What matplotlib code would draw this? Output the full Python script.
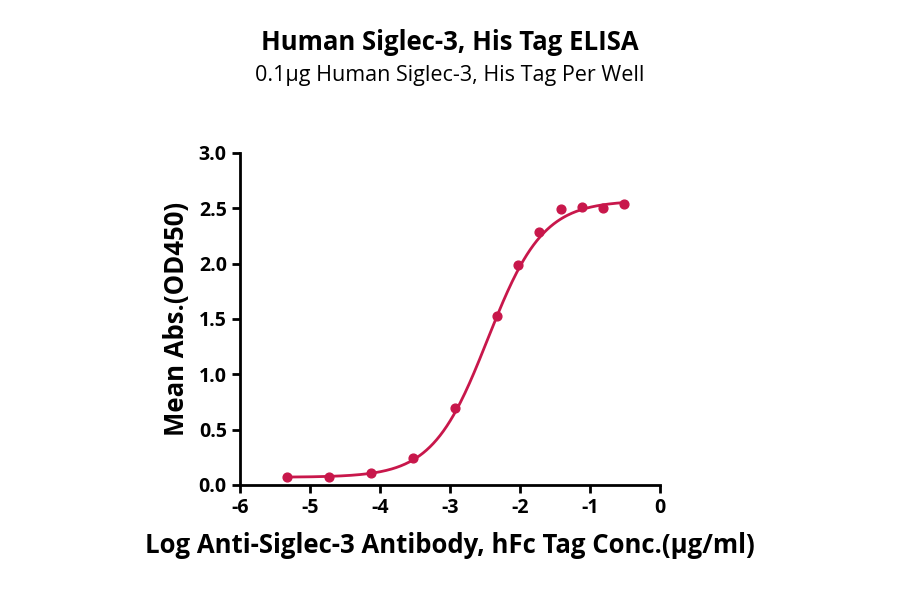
import numpy as np
import matplotlib
matplotlib.use("Agg")
import matplotlib.pyplot as plt

plt.rcParams['font.family'] = ['Open Sans', 'DejaVu Sans']
plt.rcParams['axes.unicode_minus'] = False

log_conc = [-5.33, -4.73, -4.13, -3.53, -2.93, -2.33, -2.03, -1.73, -1.42, -1.12, -0.82, -0.52]
od450 = [0.07, 0.07, 0.11, 0.24, 0.70, 1.53, 1.99, 2.29, 2.49, 2.51, 2.50, 2.54]
# 4PL fit parameters (estimated)
bottom, top, log_ec50, hill = 0.07, 2.57, -2.46, 1.1

color = '#C8174B'
fig = plt.figure(figsize=(9, 5.94), dpi=100)
ax = fig.add_axes([240/900, 1-485/594, 420/900, 332/594])
xs = np.linspace(min(log_conc), max(log_conc), 300)
ys = bottom + (top - bottom) / (1 + 10 ** ((log_ec50 - xs) * hill))
ax.plot(xs, ys, color=color, lw=2)
ax.scatter(log_conc, od450, color=color, s=40, zorder=3)
ax.set_xlim(-6, 0)
ax.set_ylim(0, 3.0)
ax.set_xticks(range(-6, 1))
ax.set_yticks(np.arange(0, 3.01, 0.5))
ax.set_yticklabels([f"{v:.1f}" for v in np.arange(0, 3.01, 0.5)])
for s in ['top', 'right']:
    ax.spines[s].set_visible(False)
for s in ['left', 'bottom']:
    ax.spines[s].set_linewidth(2)
ax.tick_params(width=2, length=6, labelsize=14)
for lab in ax.get_xticklabels() + ax.get_yticklabels():
    lab.set_fontweight('bold')
ax.set_xlabel('Log Anti-Siglec-3 Antibody, hFc Tag Conc.(μg/ml)', fontsize=18.5, fontweight='bold', labelpad=10)
ax.set_ylabel('Mean Abs.(OD450)', fontsize=18.5, fontweight='bold', labelpad=6)
fig.text(0.5, 1-42/594, 'Human Siglec-3, His Tag ELISA', ha='center', va='center', fontsize=18.5, fontweight='bold')
fig.text(0.5, 1-75/594, '0.1μg Human Siglec-3, His Tag Per Well', ha='center', va='center', fontsize=15.5)
fig.savefig('out.png', dpi=100)
